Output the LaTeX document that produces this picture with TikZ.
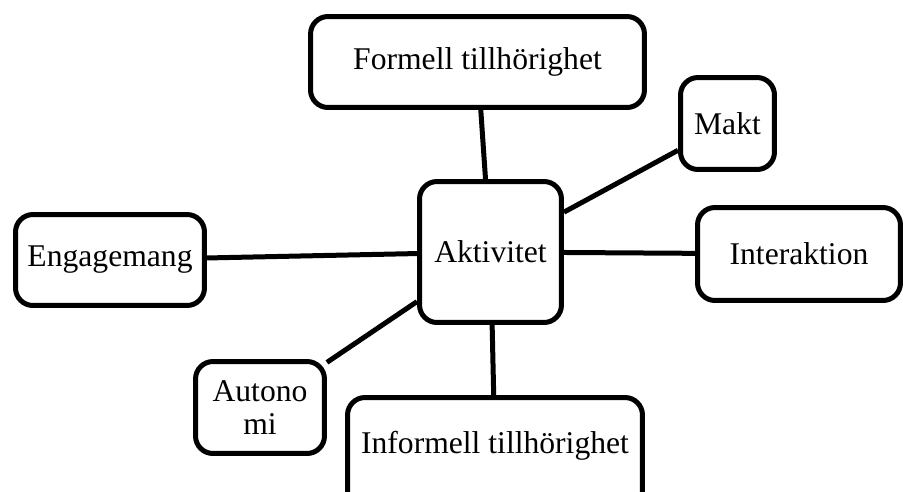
\documentclass[tikz,border=0pt]{standalone}
\usepackage{fontspec}
\setmainfont{Liberation Serif}
\usepackage{tikz}
\usetikzlibrary{positioning}

\begin{document}
\begin{tikzpicture}[x=0.02cm,y=-0.02cm,
		box/.style={draw,line width=0.1cm,rounded corners=0.35cm,fill=white,inner sep=0pt,
			font=\fontsize{18}{19}\selectfont,align=center},
		link/.style={line width=0.1cm}]
		\clip (0,0) rectangle (904,491);
		\node[box,minimum width=6.68cm,minimum height=1.82cm] (formell) at (477.5,62) {Formell tillhörighet};
		\node[box,minimum width=1.88cm,minimum height=1.84cm] (makt) at (727.5,123.5) {Makt};
		\node[box,minimum width=2.84cm,minimum height=2.82cm] (akt) at (490.5,252) {Aktivitet};
		\node[box,minimum width=3.78cm,minimum height=1.82cm] (eng) at (110,260) {Engagemang};
		\node[box,minimum width=4.06cm,minimum height=1.86cm] (inter) at (799,254) {Interaktion};
		\node[box,minimum width=2.58cm,minimum height=1.84cm] (auto) at (260,407.5) {Autono\\mi};
		\node[box,minimum width=5.9cm,minimum height=2.22cm,text height=0.3cm,text depth=0.3cm] (inf) at (495,453) {Informell tillhörighet};
		\draw[link] (akt) -- (formell);
		\draw[link] (akt) -- (makt);
		\draw[link] (akt) -- (inter);
		\draw[link] (akt) -- (eng);
		\draw[link] (akt) -- (auto);
		\draw[link] (akt) -- (inf);
\end{tikzpicture}
\end{document}
